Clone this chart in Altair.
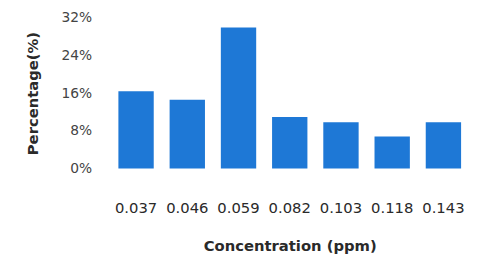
import altair as alt
import pandas as pd

concentration = ["0.037", "0.046", "0.059", "0.082", "0.103", "0.118", "0.143"]
percentage = [16.4, 14.6, 29.9, 10.9, 9.8, 6.8, 9.8]

df = pd.DataFrame({"conc": concentration, "pct": percentage})

FONT = "DejaVu Sans"

chart = alt.Chart(df).mark_bar(color="#1E78D6").encode(
    x=alt.X("conc:N", sort=concentration, title="Concentration (ppm)",
            scale=alt.Scale(paddingInner=0.31, paddingOuter=0.155),
            axis=alt.Axis(labelAngle=0, labelFontSize=15, labelColor="#2a2a2a",
                          labelPadding=33, domain=False, ticks=False,
                          titleFontSize=15, titleFontWeight="bold", titleColor="#2a2a2a",
                          titlePadding=23, labelFont=FONT, titleFont=FONT)),
    y=alt.Y("pct:Q", title="Percentage(%)",
            scale=alt.Scale(domain=[0, 32], nice=False),
            axis=alt.Axis(values=[0, 8, 16, 24, 32], labelExpr="datum.value + '%'",
                          labelFontSize=14, labelColor="#444444", labelPadding=19,
                          domain=False, ticks=False, grid=False,
                          titleFontSize=15, titleFontWeight="bold", titleColor="#2a2a2a",
                          titleX=-71, labelFont=FONT, titleFont=FONT)),
).properties(
    width=364, height=153,
    autosize=alt.AutoSizeParams(type="none"),
    padding={"left": 104, "top": 8, "right": 2, "bottom": 85},
).configure_view(stroke=None).configure_axis(grid=False)

chart.save("out.html", embed_options={"renderer": "svg", "actions": False})
